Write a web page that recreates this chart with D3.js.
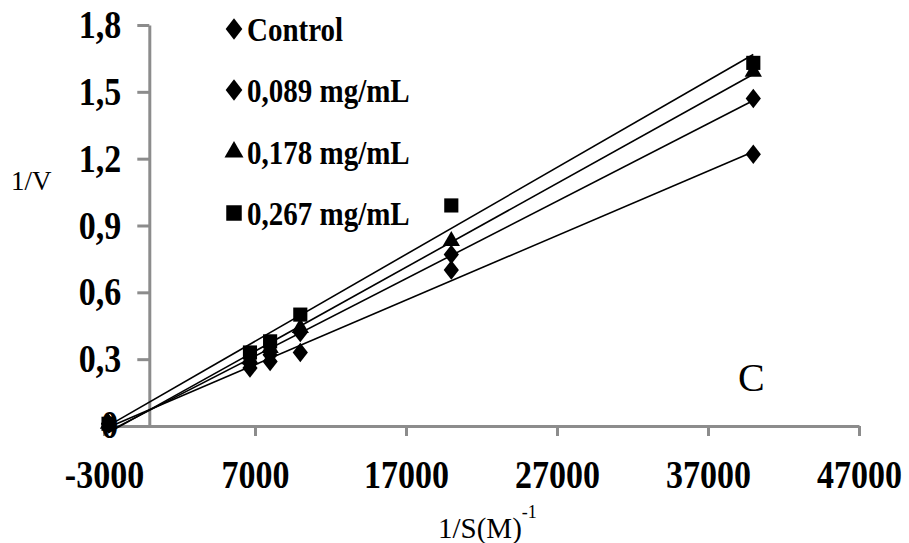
<!DOCTYPE html>
<html>
<head>
<meta charset="utf-8">
<script src="https://cdn.jsdelivr.net/npm/d3@7"></script>
<style>
  html, body { margin: 0; padding: 0; background: #fff; }
  svg { display: block; font-family: "Liberation Serif", "Times New Roman", serif; }
  .tall { transform-box: fill-box; transform-origin: center; transform: scaleY(1.15); }
</style>
</head>
<body>
<svg id="chart" width="909" height="543"></svg>
<script>
// 1/[S] values (M^-1), shared by all series
const xValues = [-2700, 6667, 8000, 10000, 20000, 40000];

const seriesNames = ['Control', '0,089 mg/mL', '0,178 mg/mL', '0,267 mg/mL'];
const controlValues = [0.01, 0.26, 0.29, 0.33, 0.70, 1.22];
const dose089Values = [0.01, 0.28, 0.32, 0.42, 0.77, 1.47];
const dose178Values = [0.01, 0.30, 0.35, 0.44, 0.83, 1.59];
const dose267Values = [0.01, 0.33, 0.38, 0.50, 0.99, 1.63];

const xTicks = [-3000, 7000, 17000, 27000, 37000, 47000];
const yTicks = [0, 0.3, 0.6, 0.9, 1.2, 1.5, 1.8];

const allValues = [controlValues, dose089Values, dose178Values, dose267Values];
const symbols = [d3.symbolDiamond, d3.symbolDiamond, d3.symbolTriangle, d3.symbolSquare];
const symbolSizes = [110, 110, 130, 200];
const symbolStretch = [1.35, 1.35, 1, 1];

const svg = d3.select('#chart');
const axisColor = '#8c8c8c';

const x = d3.scaleLinear().domain([-3000, 47000]).range([104, 859]);
const y = d3.scaleLinear().domain([0, 1.8]).range([426, 25]);

const fmt = v => v === 0 ? '0' : d3.format('.1f')(v).replace('.', ',');

// X axis
const xAxis = svg.append('g')
  .attr('transform', `translate(0,${y(0)})`)
  .call(d3.axisBottom(x).tickValues(xTicks).tickSize(10).tickPadding(26).tickSizeOuter(0).tickFormat(d => String(d)));
xAxis.select('.domain').attr('stroke', axisColor).attr('stroke-width', 3);
xAxis.selectAll('.tick line').attr('stroke', axisColor).attr('stroke-width', 3);
xAxis.selectAll('.tick text')
  .attr('class', 'tall')
  .attr('fill', '#000')
  .attr('font-size', 34)
  .attr('font-weight', 'bold')
  .attr('font-family', '"Liberation Serif", serif');

// Y axis sits on x = 0
const yAxis = svg.append('g')
  .attr('transform', `translate(${x(0)},0)`)
  .call(d3.axisLeft(y).tickValues(yTicks).tickSize(12).tickPadding(16).tickSizeOuter(0).tickFormat(fmt));
yAxis.select('.domain').attr('stroke', axisColor).attr('stroke-width', 3);
yAxis.selectAll('.tick line').attr('stroke', axisColor).attr('stroke-width', 3);
yAxis.selectAll('.tick text')
  .attr('class', 'tall')
  .attr('fill', '#000')
  .attr('font-size', 34)
  .attr('font-weight', 'bold')
  .attr('font-family', '"Liberation Serif", serif');
// "0" label sits lower and further left in the original
yAxis.selectAll('.tick').filter(d => d === 0).select('text').attr('x', -31).attr('dy', '0.3em');

// Least-squares trend lines
function fit(ys) {
  const mx = d3.mean(xValues), my = d3.mean(ys);
  const num = d3.sum(xValues, (v, i) => (v - mx) * (ys[i] - my));
  const den = d3.sum(xValues, v => (v - mx) * (v - mx));
  const slope = num / den;
  return { slope, intercept: my - slope * mx };
}

const xMin = d3.min(xValues), xMax = d3.max(xValues);
allValues.forEach(ys => {
  const f = fit(ys);
  svg.append('line')
    .attr('x1', x(xMin)).attr('y1', y(f.intercept + f.slope * xMin))
    .attr('x2', x(xMax)).attr('y2', y(f.intercept + f.slope * xMax))
    .attr('stroke', '#000')
    .attr('stroke-width', 1.6);
});

// Points
allValues.forEach((ys, s) => {
  svg.append('g').selectAll('path')
    .data(ys)
    .enter().append('path')
    .attr('transform', (d, i) => `translate(${x(xValues[i])},${y(d)}) scale(${symbolStretch[s]},1)`)
    .attr('d', d3.symbol().type(symbols[s]).size(symbolSizes[s]))
    .attr('fill', '#000');
});

// Legend
const legendY = [29, 90, 152, 213];
const legend = svg.append('g');
seriesNames.forEach((name, s) => {
  legend.append('path')
    .attr('transform', `translate(234,${legendY[s]}) scale(${symbolStretch[s]},1)`)
    .attr('d', d3.symbol().type(symbols[s]).size(symbolSizes[s] * 1.2))
    .attr('fill', '#000');
  legend.append('text')
    .attr('class', 'tall')
    .attr('x', 247)
    .attr('y', legendY[s])
    .attr('dy', '0.35em')
    .attr('font-size', 29)
    .attr('font-weight', 'bold')
    .text(name);
});

// Axis titles
svg.append('text')
  .attr('x', 11).attr('y', 190)
  .attr('font-size', 27)
  .text('1/V');

const xTitle = svg.append('text')
  .attr('x', 438).attr('y', 538)
  .attr('font-size', 29);
xTitle.append('tspan').text('1/S(M)');
xTitle.append('tspan').attr('font-size', 18).attr('dy', -20).text('-1');

svg.append('text')
  .attr('x', 738).attr('y', 391)
  .attr('font-size', 40)
  .text('C');
</script>
</body>
</html>
